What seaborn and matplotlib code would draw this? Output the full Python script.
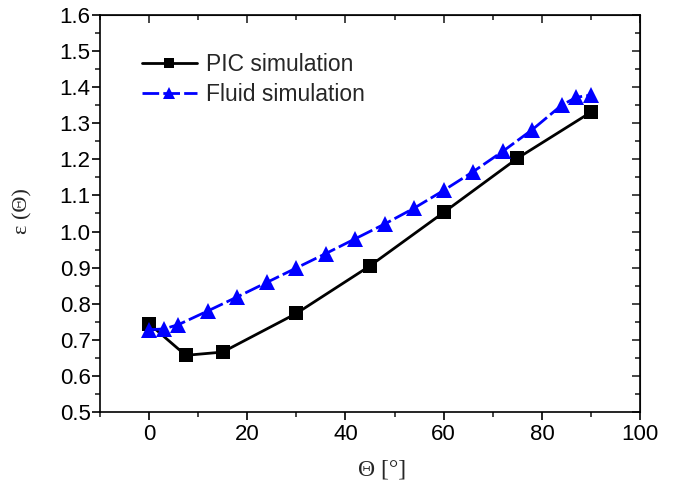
import numpy as np
import pandas as pd
import seaborn as sns
import matplotlib
matplotlib.use('Agg')
import matplotlib.pyplot as plt
from matplotlib.ticker import MultipleLocator

# data
pic_theta = [0, 7.5, 15, 30, 45, 60, 75, 90]
pic_eps = [0.745, 0.657, 0.666, 0.773, 0.905, 1.053, 1.203, 1.331]

fluid_theta = [0, 3, 6, 12, 18, 24, 30, 36, 42, 48, 54, 60, 66, 72, 78, 84, 87, 90]
fluid_eps = [0.728, 0.730, 0.742, 0.780, 0.819, 0.859, 0.899, 0.939, 0.980, 1.021,
             1.065, 1.114, 1.166, 1.222, 1.282, 1.350, 1.372, 1.378]

series_names = ['PIC simulation', 'Fluid simulation']

pic = pd.DataFrame({'theta': pic_theta, 'eps': pic_eps})
fluid = pd.DataFrame({'theta': fluid_theta, 'eps': fluid_eps})

sns.set_style('ticks')
plt.rcParams['font.family'] = ['Liberation Sans', 'DejaVu Sans']

fig = plt.figure(figsize=(6.74, 4.92), dpi=100)
ax = fig.add_axes([0.148, 0.1626, 0.802, 0.807])

sns.lineplot(pic, x='theta', y='eps', ax=ax, color='black', lw=2, marker='s',
             markersize=9.5, markeredgewidth=0, label=series_names[0])
sns.lineplot(fluid, x='theta', y='eps', ax=ax, color='#0000ff', lw=2, marker='^',
             markersize=11, markeredgewidth=0, dashes=(6, 1.5), label=series_names[1])

ax.set_xlim(-10, 100)
ax.set_ylim(0.5, 1.6)
ax.xaxis.set_major_locator(MultipleLocator(20))
ax.xaxis.set_minor_locator(MultipleLocator(10))
ax.yaxis.set_major_locator(MultipleLocator(0.1))
ax.yaxis.set_minor_locator(MultipleLocator(0.05))
ax.yaxis.set_major_formatter(matplotlib.ticker.FormatStrFormatter('%.1f'))
ax.tick_params(which='major', direction='out', length=5.5, width=1.2, labelsize=16, colors='black')
ax.tick_params(which='minor', direction='out', length=3.5, width=1.2)
ax.tick_params(axis='y', pad=1)
ax.tick_params(axis='x', pad=3)

for sp in ax.spines.values():
    sp.set_linewidth(1.2)
    sp.set_color('black')

# mirrored inward ticks on top and right
top = ax.secondary_xaxis('top')
top.xaxis.set_major_locator(MultipleLocator(20))
top.xaxis.set_minor_locator(MultipleLocator(10))
top.tick_params(which='both', direction='in', labeltop=False, width=1.2)
top.tick_params(which='major', length=5.5)
top.tick_params(which='minor', length=3.5)
right = ax.secondary_yaxis('right')
right.yaxis.set_major_locator(MultipleLocator(0.1))
right.yaxis.set_minor_locator(MultipleLocator(0.05))
right.tick_params(which='both', direction='in', labelright=False, width=1.2)
right.tick_params(which='major', length=5.5)
right.tick_params(which='minor', length=3.5)

ax.set_xlabel('Θ [°]', family=['Liberation Serif', 'DejaVu Serif'], fontsize=17)
ax.set_ylabel('ε (Θ)', family=['Liberation Serif', 'DejaVu Serif'], fontsize=16)
ax.xaxis.set_label_coords(0.523, -0.12)
ax.yaxis.set_label_coords(-0.124, 0.506)

ax.legend(loc='upper left', bbox_to_anchor=(0.04, 0.955), frameon=False, fontsize=16.5,
          handlelength=2.4, handletextpad=0.4, labelspacing=0.3, markerscale=0.75)

fig.savefig('out.png', dpi=100)
